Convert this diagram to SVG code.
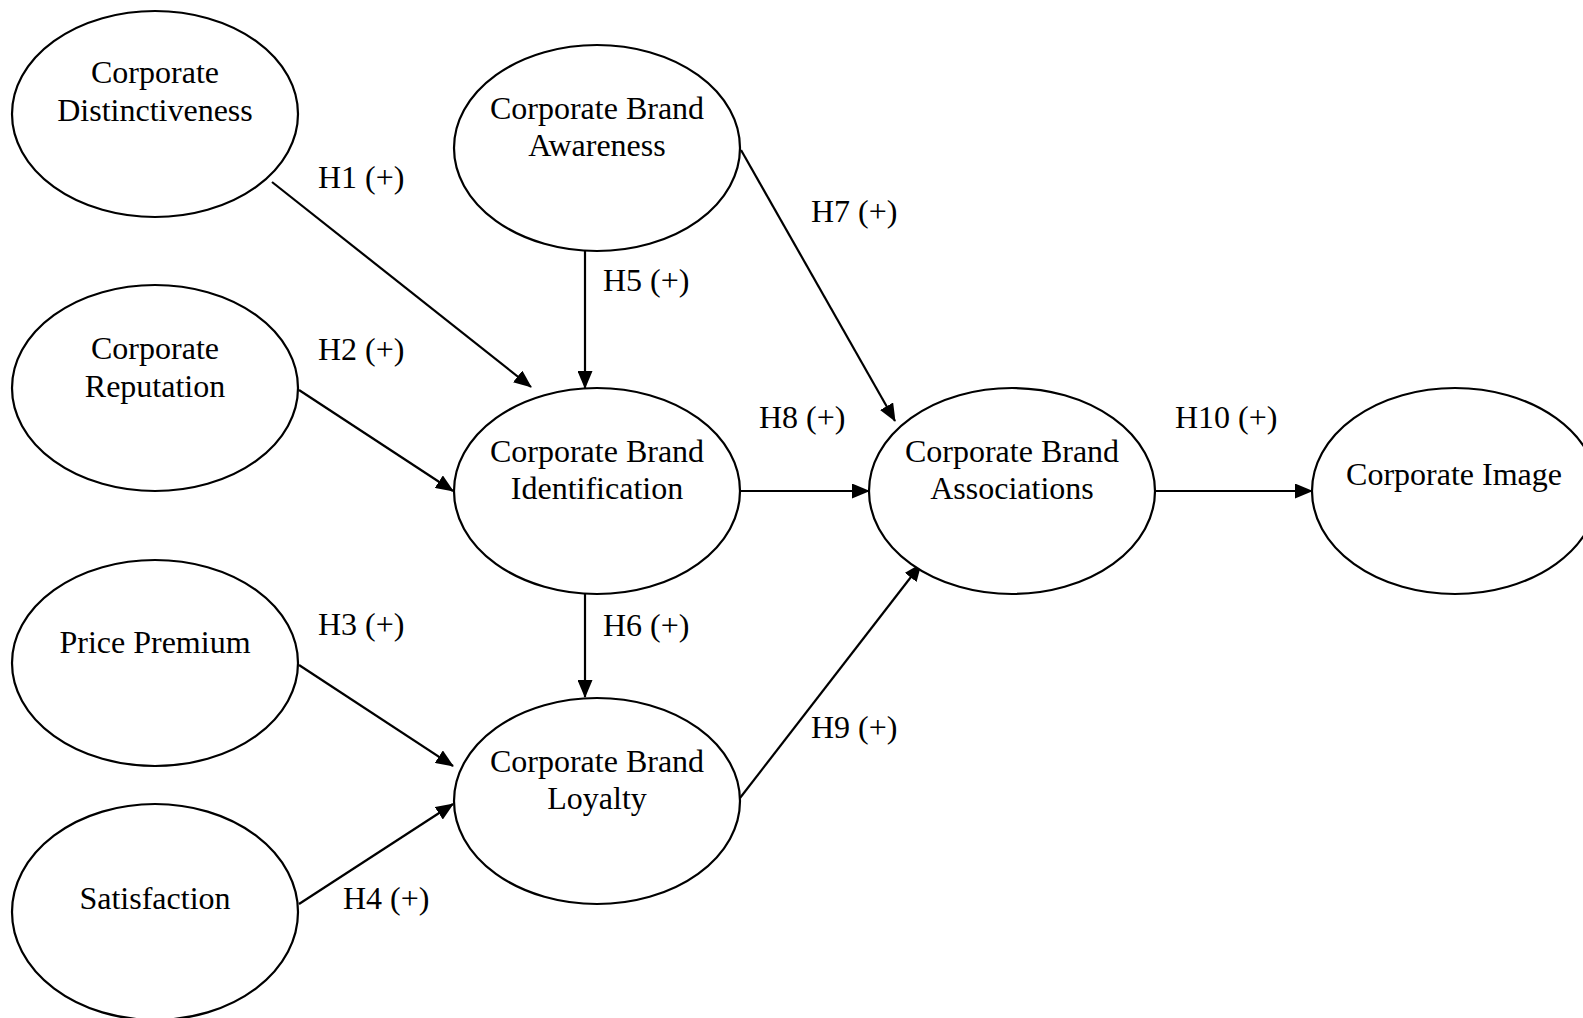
<svg xmlns="http://www.w3.org/2000/svg" width="1583" height="1018" viewBox="0 0 1583 1018">
<style>
.n ellipse{fill:#fff;stroke:#000;stroke-width:2.2}
text{font-family:"Liberation Serif","Times New Roman",serif;font-size:32px;fill:#000}
.n text{text-anchor:middle}
.c line{stroke:#000;stroke-width:2.2;marker-end:url(#ah)}
</style>
<defs>
<marker id="ah" markerUnits="userSpaceOnUse" markerWidth="18" markerHeight="15" refX="17" refY="7.5" orient="auto">
<path d="M0,0 L18,7.5 L0,15 Z" fill="#000"/>
</marker>
</defs>
<rect width="1583" height="1018" fill="#fff"/>
<g id="connectors" class="c">
<line x1="272" y1="182" x2="531" y2="387"/>
<line x1="299" y1="390" x2="453" y2="491"/>
<line x1="299" y1="665" x2="453" y2="766"/>
<line x1="299" y1="904" x2="453" y2="804"/>
<line x1="585" y1="251" x2="585" y2="388"/>
<line x1="585" y1="594" x2="585" y2="697"/>
<line x1="741" y1="150" x2="895" y2="421"/>
<line x1="740" y1="491" x2="869" y2="491"/>
<line x1="740" y1="798" x2="921" y2="564"/>
<line x1="1155" y1="491" x2="1312" y2="491"/>
</g>
<g id="labels">
<text x="318" y="188">H1 (+)</text>
<text x="318" y="360">H2 (+)</text>
<text x="318" y="635">H3 (+)</text>
<text x="343" y="909">H4 (+)</text>
<text x="603" y="291">H5 (+)</text>
<text x="603" y="636">H6 (+)</text>
<text x="811" y="222">H7 (+)</text>
<text x="759" y="428">H8 (+)</text>
<text x="811" y="738">H9 (+)</text>
<text x="1175" y="428">H10 (+)</text>
</g>
<g id="distinctiveness" class="n"><ellipse cx="155" cy="114" rx="143" ry="103"/><text x="155" y="83">Corporate</text><text x="155" y="121">Distinctiveness</text></g>
<g id="reputation" class="n"><ellipse cx="155" cy="388" rx="143" ry="103"/><text x="155" y="359">Corporate</text><text x="155" y="397">Reputation</text></g>
<g id="price-premium" class="n"><ellipse cx="155" cy="663" rx="143" ry="103"/><text x="155" y="653">Price Premium</text></g>
<g id="satisfaction" class="n"><ellipse cx="155" cy="912" rx="143" ry="108"/><text x="155" y="909">Satisfaction</text></g>
<g id="awareness" class="n"><ellipse cx="597" cy="148" rx="143" ry="103"/><text x="597" y="119">Corporate Brand</text><text x="597" y="156">Awareness</text></g>
<g id="identification" class="n"><ellipse cx="597" cy="491" rx="143" ry="103"/><text x="597" y="462">Corporate Brand</text><text x="597" y="499">Identification</text></g>
<g id="loyalty" class="n"><ellipse cx="597" cy="801" rx="143" ry="103"/><text x="597" y="772">Corporate Brand</text><text x="597" y="809">Loyalty</text></g>
<g id="associations" class="n"><ellipse cx="1012" cy="491" rx="143" ry="103"/><text x="1012" y="462">Corporate Brand</text><text x="1012" y="499">Associations</text></g>
<g id="corporate-image" class="n"><ellipse cx="1455" cy="491" rx="143" ry="103"/><text x="1454" y="485">Corporate Image</text></g>
</svg>
